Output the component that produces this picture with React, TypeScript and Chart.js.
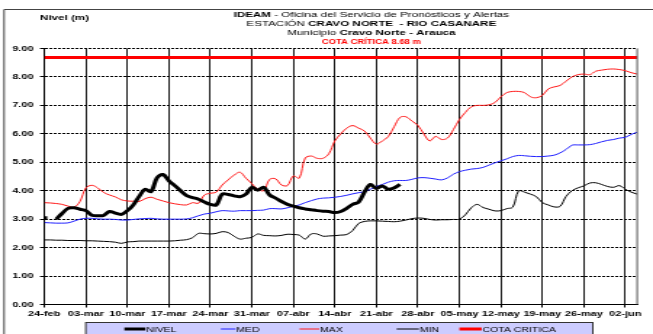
import React, { useEffect, useRef } from "react";
import { Chart, registerables } from "chart.js";

Chart.register(...registerables);

// ---- data (daily values starting 24-feb) ----
const TICK_LABELS = [
  "24-feb", "03-mar", "10-mar", "17-mar", "24-mar", "31-mar", "07-abr", "14-abr",
  "21-abr", "28-abr", "05-may", "12-may", "19-may", "26-may", "02-jun",
];
const TICK_STEP_DAYS = 7;
const X_MAX_DAYS = 100;
const Y_TICKS = [0, 1, 2, 3, 4, 5, 6, 7, 8, 9];

const NIVEL: (number | null)[] = [
  3.05, null, 3.0, 3.2, 3.38, 3.4, 3.35, 3.3, 3.14, 3.12,
  3.13, 3.27, 3.21, 3.17, 3.3, 3.5, 3.8, 4.05, 3.97, 4.45,
  4.57, 4.35, 4.18, 4.0, 3.83, 3.76, 3.7, 3.6, 3.52, 3.5,
  3.88, 3.87, 3.82, 3.79, 3.88, 4.12, 4.02, 4.12, 3.85, 3.74,
  3.62, 3.52, 3.46, 3.4, 3.36, 3.33, 3.3, 3.28, 3.27, 3.23,
  3.27, 3.38, 3.52, 3.6, 3.95, 4.22, 4.08, 4.17, 4.05, 4.1,
  4.22,
];

const MED = [
  2.88, 2.87, 2.86, 2.86, 2.87, 2.93, 3.0, 3.03, 3.03, 3.01,
  3.0, 3.0, 2.99, 2.97, 2.97, 2.99, 3.01, 3.02, 3.03, 3.01,
  3.0, 3.0, 3.0, 3.0, 3.01, 3.05, 3.12, 3.18, 3.21, 3.26,
  3.3, 3.29, 3.28, 3.3, 3.3, 3.3, 3.31, 3.32, 3.37, 3.37,
  3.36, 3.4, 3.45, 3.5, 3.58, 3.65, 3.71, 3.74, 3.75, 3.77,
  3.8, 3.84, 3.89, 3.93, 3.97, 4.05, 4.15, 4.22, 4.3, 4.35,
  4.36, 4.36, 4.4, 4.45, 4.46, 4.44, 4.41, 4.38, 4.45, 4.58,
  4.67, 4.72, 4.76, 4.78, 4.82, 4.9, 4.98, 5.05, 5.12, 5.2,
  5.24, 5.23, 5.21, 5.2, 5.2, 5.22, 5.25, 5.33, 5.45, 5.6,
  5.61, 5.61, 5.62, 5.66, 5.72, 5.77, 5.8, 5.85, 5.88, 5.98,
  6.06,
];

const MAX = [
  3.58, 3.57, 3.55, 3.52, 3.46, 3.42, 3.62, 4.1, 4.19, 4.1,
  3.94, 3.85, 3.78, 3.68, 3.64, 3.63, 3.62, 3.72, 3.77, 3.7,
  3.64, 3.58, 3.54, 3.51, 3.5, 3.58, 3.56, 3.85, 3.91, 3.95,
  4.2, 4.38, 4.55, 4.65, 4.44, 4.25, 4.05, 4.0, 4.4, 4.42,
  4.2, 4.18, 4.52, 4.44, 5.15, 5.22, 5.14, 5.14, 5.3, 5.75,
  6.0, 6.2, 6.29, 6.2, 6.1, 5.85, 5.64, 5.75, 5.9, 6.25,
  6.58, 6.6, 6.45, 6.3, 6.0, 5.75, 5.91, 5.8, 5.85, 6.15,
  6.5, 6.75, 6.95, 7.0, 7.0, 7.02, 7.1, 7.3, 7.45, 7.49,
  7.49, 7.45, 7.3, 7.27, 7.35, 7.58, 7.65, 7.7, 7.85, 8.0,
  8.08, 8.1, 8.08, 8.2, 8.24, 8.27, 8.28, 8.26, 8.22, 8.15,
  8.1,
];

const MIN = [
  2.27, 2.27, 2.26, 2.26, 2.25, 2.25, 2.25, 2.24, 2.24, 2.23,
  2.22, 2.21, 2.19, 2.15, 2.2, 2.21, 2.23, 2.23, 2.23, 2.23,
  2.23, 2.23, 2.24, 2.26, 2.28, 2.35, 2.5, 2.49, 2.48, 2.5,
  2.56, 2.53, 2.4, 2.3, 2.33, 2.36, 2.48, 2.43, 2.42, 2.41,
  2.43, 2.47, 2.46, 2.44, 2.3, 2.48, 2.48, 2.4, 2.41, 2.42,
  2.44, 2.46, 2.6, 2.85, 2.92, 2.94, 2.94, 2.93, 2.92, 2.91,
  2.93, 2.97, 3.02, 3.04, 3.03, 2.99, 2.97, 2.98, 2.98, 2.99,
  3.0, 3.15, 3.4, 3.52, 3.41, 3.35, 3.29, 3.3, 3.37, 3.42,
  4.0, 3.95, 3.88, 3.79, 3.58, 3.5, 3.43, 3.45, 3.8, 4.0,
  4.1, 4.17, 4.27, 4.28, 4.22, 4.15, 4.12, 4.18, 4.05, 3.95,
  3.88,
];

const COTA_CRITICA = 8.68;

const SERIES_NAMES = ["NIVEL", "MED", "MAX", "MIN", "COTA CRITICA"];

// ---- layout / style ----
const PAGE_W = 653;
const PAGE_H = 334;
const CANVAS_W = 450; // drawn narrower, then stretched horizontally like the original
const FONT = "'Liberation Sans', Arial, Helvetica, sans-serif";

const toPoints = (arr: (number | null)[]) => arr.map((v, i) => ({ x: i, y: v }));

const decorPlugin = {
  id: "decor",
  beforeDraw(chart: any) {
    const { ctx, width, height } = chart;
    ctx.save();
    ctx.fillStyle = "#ffffff";
    ctx.fillRect(0, 0, width, height);
    ctx.restore();
  },
  afterDraw(chart: any) {
    const { ctx, chartArea, width, height } = chart;
    ctx.save();
    // outer frame (top and left)
    ctx.strokeStyle = "#444";
    ctx.lineWidth = 1;
    ctx.beginPath();
    ctx.moveTo(2.8, height + 2);
    ctx.lineTo(2.8, 9.5);
    ctx.lineTo(width, 9.5);
    ctx.stroke();

    // plot right border
    ctx.strokeStyle = "#555";
    ctx.beginPath();
    ctx.moveTo(chartArea.right, chartArea.top);
    ctx.lineTo(chartArea.right, chartArea.bottom);
    ctx.stroke();

    // titles
    const drawMixed = (parts: [string, boolean][], cx: number, y: number, size: number, color: string) => {
      ctx.textBaseline = "middle";
      ctx.fillStyle = color;
      let total = 0;
      const widths = parts.map(([t, b]) => {
        ctx.font = `${b ? "bold " : ""}${size}px ${FONT}`;
        const w = ctx.measureText(t).width;
        total += w;
        return w;
      });
      let x = cx - total / 2;
      parts.forEach(([t, b], i) => {
        ctx.font = `${b ? "bold " : ""}${size}px ${FONT}`;
        ctx.textAlign = "left";
        ctx.fillText(t, x, y);
        x += widths[i];
      });
    };
    const cx = 255.9;
    drawMixed([["IDEAM", true], [" - Oficina del Servicio de Pronósticos y Alertas", false]], cx, 15, 8, "#000");
    drawMixed([["ESTACIÓN ", false], ["CRAVO NORTE  - RIO CASANARE", true]], cx, 24, 8, "#000");
    drawMixed([["Municipio ", false], ["Cravo Norte - Arauca", true]], cx, 33, 8, "#000");
    drawMixed([["COTA CRÍTICA 8.68 m", true]], cx, 42, 6.5, "#ff0000");
    drawMixed([["Nivel (m)", true]], 44.5, 17.5, 8, "#000");

    // legend
    const boxL = 59.1, boxR = 408.5, boxT = 322.5;
    ctx.fillStyle = "#ccccff";
    ctx.fillRect(boxL, boxT, boxR - boxL, height - boxT + 5);
    ctx.strokeStyle = "#333";
    ctx.lineWidth = 1;
    ctx.strokeRect(boxL, boxT, boxR - boxL, height - boxT + 5);
    const itemX = [[85.7, 100.7], [152.2, 162.8], [206.4, 220.5], [273.3, 289.2], [316.6, 332.4]];
    const ly = 329;
    chart.data.datasets.forEach((ds: any, i: number) => {
      const [x0, x1] = itemX[i];
      ctx.strokeStyle = ds.borderColor;
      ctx.lineWidth = ds.borderWidth;
      ctx.beginPath();
      ctx.moveTo(x0, ly);
      ctx.lineTo(x1 - 0.5, ly);
      ctx.stroke();
      ctx.fillStyle = "#000";
      ctx.font = `7.25px ${FONT}`;
      ctx.textAlign = "left";
      ctx.textBaseline = "middle";
      ctx.fillText(ds.label, x1, ly + 0.5);
    });
    ctx.restore();
  },
};

export default function App() {
  const ref = useRef<HTMLCanvasElement | null>(null);

  useEffect(() => {
    if (!ref.current) return;
    const chart = new Chart(ref.current, {
      type: "line",
      data: {
        datasets: [
          {
            label: SERIES_NAMES[0],
            data: toPoints(NIVEL),
            borderColor: "#000000",
            backgroundColor: "#000000",
            borderWidth: 3,
            tension: 0.35,
            spanGaps: false,
            pointStyle: "line",
            pointRadius: (c: any) => (c.dataIndex === 0 ? 2 : 0),
            pointBorderWidth: 3,
            pointBorderColor: "#000000",
          },
          {
            label: SERIES_NAMES[1],
            data: toPoints(MED),
            borderColor: "#2020ff",
            borderWidth: 1,
            tension: 0.35,
            pointRadius: 0,
          },
          {
            label: SERIES_NAMES[2],
            data: toPoints(MAX),
            borderColor: "#ff1a1a",
            borderWidth: 1,
            tension: 0.35,
            pointRadius: 0,
          },
          {
            label: SERIES_NAMES[3],
            data: toPoints(MIN),
            borderColor: "#000000",
            borderWidth: 1,
            tension: 0.35,
            pointRadius: 0,
          },
          {
            label: SERIES_NAMES[4],
            data: [
              { x: 0, y: COTA_CRITICA },
              { x: X_MAX_DAYS, y: COTA_CRITICA },
            ],
            borderColor: "#ff0000",
            borderWidth: 3,
            pointRadius: 0,
          },
        ],
      },
      options: {
        animation: false,
        responsive: false,
        devicePixelRatio: 1,
        events: [],
        layout: { padding: { top: 48.5, right: CANVAS_W - 439.1, left: 0, bottom: 0 } },
        plugins: {
          legend: { display: false },
          title: { display: false },
          tooltip: { enabled: false },
        },
        scales: {
          x: {
            type: "linear",
            min: 0,
            max: X_MAX_DAYS,
            afterBuildTicks: (s: any) => {
              s.ticks = TICK_LABELS.map((_, i) => ({ value: i * TICK_STEP_DAYS }));
            },
            afterFit: (s: any) => {
              s.height = PAGE_H - 304.5;
            },
            ticks: {
              autoSkip: false,
              maxRotation: 0,
              minRotation: 0,
              padding: 2,
              color: "#000",
              font: { family: FONT, size: 7.6, weight: "bold" },
              callback: (v: any) => TICK_LABELS[Math.round(Number(v) / TICK_STEP_DAYS)] ?? "",
            },
            grid: {
              color: "#1a1a1a",
              lineWidth: 1,
              drawTicks: true,
              tickLength: 3,
              tickColor: "#000",
            },
            border: { display: true, color: "#000", width: 1 },
          },
          y: {
            type: "linear",
            min: 0,
            max: 9,
            afterBuildTicks: (s: any) => {
              s.ticks = Y_TICKS.map((v) => ({ value: v }));
            },
            afterFit: (s: any) => {
              s.width = 30.55;
            },
            ticks: {
              padding: 4.5,
              color: "#000",
              font: { family: FONT, size: 7.5, weight: "bold" },
              callback: (v: any) => Number(v).toFixed(2),
            },
            grid: {
              color: "#000",
              lineWidth: 1,
              drawTicks: true,
              tickLength: 3,
              tickColor: "#000",
              tickBorderDash: [],
            },
            border: { display: true, color: "#000", width: 1, dash: [2, 1] },
          },
        },
      },
      plugins: [decorPlugin],
    } as any);
    return () => chart.destroy();
  }, []);

  return (
    <div style={{ position: "fixed", left: 0, top: 0, width: PAGE_W, height: PAGE_H, overflow: "hidden", background: "#fff" }}>
      <canvas
        ref={ref}
        width={CANVAS_W}
        height={PAGE_H}
        style={{ display: "block", width: `${PAGE_W}px`, height: `${PAGE_H}px` }}
      />
    </div>
  );
}
